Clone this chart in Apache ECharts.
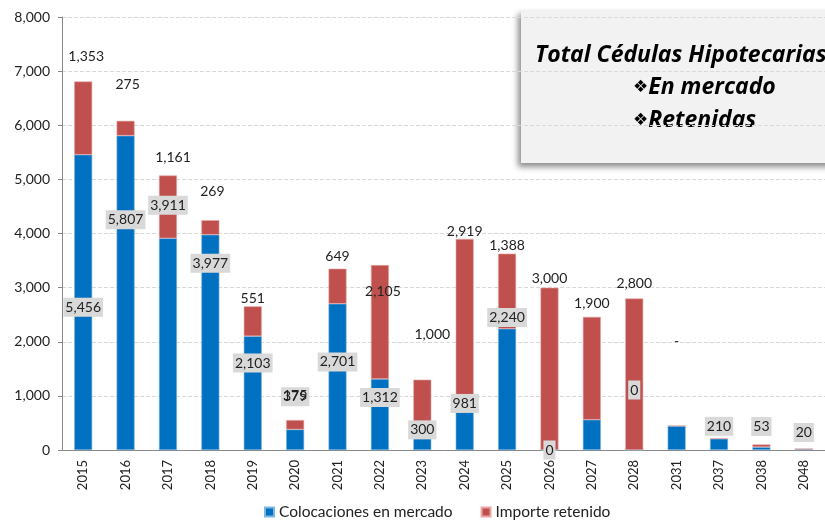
<html>
    <head>
        <meta charset="utf-8">
        <script src="https://cdn.jsdelivr.net/npm/echarts@6/dist/echarts.min.js"></script>
    </head>
    <body style="margin:0">
        <div id="main" style="width:825px;height:521px"></div>
        <script>

        var years = ['2015', '2016', '2017', '2018', '2019', '2020', '2021', '2022', '2023',
                     '2024', '2025', '2026', '2027', '2028', '2031', '2037', '2038', '2048'];
        var enMercado = [5456, 5807, 3911, 3977, 2103, 379, 2701, 1312, 300,
                         981, 2240, 0, 560, 0, 445, 210, 53, 20];
        var retenido = [1353, 275, 1161, 269, 551, 175, 649, 2105, 1000,
                        2919, 1388, 3000, 1900, 2800, 0, 0, 50, 0];

        // label nudges (px) so the labels sit where they were dragged to in the original
        var blueShift = [5, -73, -139, -79, -30, -43, -15, -17, -12, -20, -72, 0, null, -60, null, -18, -22, -17];
        var redShift = [[3, -13], [2, -24], [5, -6], [2, -17], [0, 4], [0, -13], [0, 0], [3, 38], [10, -33],
                        [0, 5], [0, 4], [0, 3], [0, -1], [0, -3], [0, -72], null, null, null];

        var fmt = function (v) { return v.toLocaleString('en-US'); };

        var myChart = echarts.init(document.getElementById('main'));

        var blueData = enMercado.map(function (v, i) {
            var item = {value: v};
            if (blueShift[i] === null) {
                item.label = {show: false};
            } else {
                item.label = {offset: [0, blueShift[i]]};
            }
            return item;
        });
        var redData = retenido.map(function (v, i) {
            var item = {value: v};
            if (redShift[i] === null) {
                item.label = {show: false};
            } else {
                item.label = {offset: redShift[i]};
            }
            return item;
        });

        var boxRich = {
            t: {fontFamily: 'Open Sans', fontStyle: 'italic', fontWeight: 'bold', fontSize: 23, color: '#000'},
            s: {fontFamily: 'DejaVu Sans', fontSize: 17, color: '#000'}
        };

        myChart.setOption({
            animation: false,
            backgroundColor: '#fff',
            textStyle: {fontFamily: 'Lato'},
            grid: {left: 62, right: -6, top: 17, bottom: 71},
            legend: {
                left: 259,
                top: 499,
                icon: 'rect',
                itemWidth: 9,
                itemHeight: 9,
                itemGap: 28,
                textStyle: {fontSize: 15.5, color: '#222'},
                data: ['Colocaciones en mercado', 'Importe retenido']
            },
            xAxis: {
                type: 'category',
                data: years,
                axisLine: {lineStyle: {color: '#888'}},
                axisTick: {length: 5, lineStyle: {color: '#888'}},
                axisLabel: {rotate: 90, fontSize: 13, color: '#222', margin: 10, interval: 0}
            },
            yAxis: {
                type: 'value',
                min: 0,
                max: 8000,
                interval: 1000,
                axisLine: {show: true, lineStyle: {color: '#888'}},
                axisTick: {show: true, length: 4, lineStyle: {color: '#888'}},
                axisLabel: {fontSize: 14, color: '#222', margin: 12, formatter: fmt},
                splitLine: {lineStyle: {color: '#d9d9d9', type: 'dashed'}}
            },
            series: [
                {
                    name: 'Colocaciones en mercado',
                    type: 'bar',
                    stack: 'total',
                    barWidth: 18,
                    itemStyle: {color: '#0070C0', borderColor: '#7fb6e0', borderWidth: 0.6},
                    label: {
                        show: true,
                        position: 'inside',
                        fontSize: 14,
                        color: '#222',
                        backgroundColor: '#d9d9d9',
                        padding: [3, 2, 2, 2],
                        formatter: function (p) { return fmt(p.value); }
                    },
                    data: blueData
                },
                {
                    name: 'Importe retenido',
                    type: 'bar',
                    stack: 'total',
                    barWidth: 18,
                    itemStyle: {color: '#C0504D', borderColor: '#e8a8a6', borderWidth: 0.6},
                    label: {
                        show: true,
                        position: 'top',
                        fontSize: 14,
                        color: '#222',
                        formatter: function (p) { return p.value === 0 ? '-' : fmt(p.value); }
                    },
                    data: redData
                }
            ],
            graphic: [
                {
                    type: 'rect',
                    left: 521,
                    top: 10,
                    shape: {width: 320, height: 153},
                    style: {
                        fill: '#f2f2f2',
                        shadowBlur: 6,
                        shadowOffsetX: -3,
                        shadowOffsetY: 4,
                        shadowColor: 'rgba(0,0,0,0.45)'
                    }
                },
                {
                    type: 'text',
                    left: 535,
                    top: 44,
                    style: {text: '{t|Total Cédulas Hipotecarias}', rich: boxRich}
                },
                {
                    type: 'text',
                    left: 633,
                    top: 76,
                    style: {text: '{s|❖}{t|En mercado}', rich: boxRich}
                },
                {
                    type: 'text',
                    left: 633,
                    top: 109,
                    style: {text: '{s|❖}{t|Retenidas}', rich: boxRich}
                }
            ]
        });

        </script>
    </body>
</html>
